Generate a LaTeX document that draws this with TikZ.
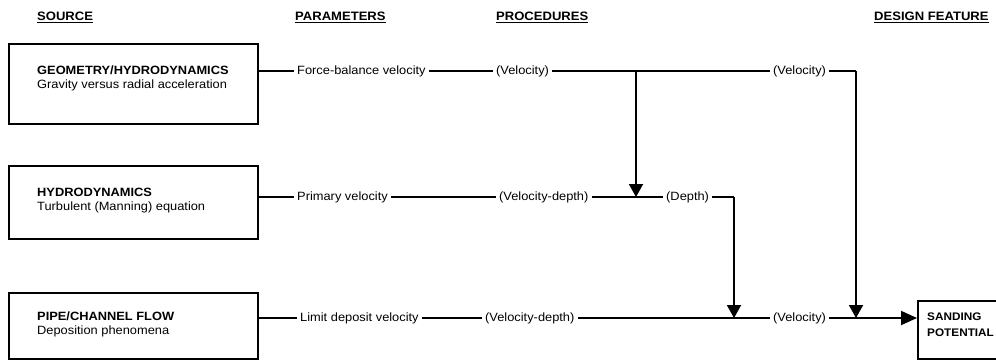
\documentclass[tikz,border=0pt]{standalone}
\usepackage{fontspec}
\setmainfont[FakeStretch=1.07]{Liberation Sans}
\usetikzlibrary{arrows.meta}
\begin{document}
\begin{tikzpicture}[x=1pt,y=-1pt,
  font=\fontsize{12}{14}\selectfont,
  srcbox/.style={draw,line width=2.4pt,inner sep=0pt},
  head/.style={font=\fontsize{12.2}{14}\selectfont\bfseries,anchor=west,inner sep=0pt},
  lbl/.style={anchor=west,inner xsep=3pt,inner ysep=1pt},
  boxtxt/.style={anchor=west,align=left,inner sep=0pt},
  wire/.style={line width=1.8pt},
  feed/.style={line width=1.3pt},
  drop/.style={line width=2pt,-{Triangle[length=13pt,width=14pt]}}]
\useasboundingbox (0,0) rectangle (996,360);

% column headings
\node[head] (hsrc) at (37,17) {\underline{SOURCE}};
\node[head] (hpar) at (295,17) {\underline{PARAMETERS}};
\node[head] (hpro) at (496,17) {\underline{PROCEDURES}};
\node[head] (hdes) at (874,17) {\underline{DESIGN FEATURE}};

% source boxes
\node[srcbox,anchor=north west,minimum width=249pt,minimum height=80pt] (src1) at (8,43) {};
\node[boxtxt] (src1t) at (37,78) {\textbf{GEOMETRY/HYDRODYNAMICS}\\Gravity versus radial acceleration};
\node[srcbox,anchor=north west,minimum width=249pt,minimum height=73pt] (src2) at (8,165) {};
\node[boxtxt] (src2t) at (37,201) {\textbf{HYDRODYNAMICS}\\Turbulent (Manning) equation};
\node[srcbox,anchor=north west,minimum width=249pt,minimum height=66pt] (src3) at (8,292) {};
\node[boxtxt] (src3t) at (37,324) {\textbf{PIPE/CHANNEL FLOW}\\Deposition phenomena};

% design feature box
\node[srcbox,anchor=north west,minimum width=90pt,minimum height=58pt] (sand) at (917,300) {};
\node[boxtxt,font=\fontsize{11}{16}\selectfont\bfseries] (sandt) at (927,325) {SANDING\\POTENTIAL};

% parameters
\node[lbl] (p1) at (294,71) {Force-balance velocity};
\node[lbl] (p2) at (294,197) {Primary velocity};
\node[lbl] (p3) at (297,318) {Limit deposit velocity};

% procedures
\node[lbl] (q1) at (493,71) {(Velocity)};
\node[lbl] (q2) at (496,197) {(Velocity-depth)};
\node[lbl] (q3) at (482,318) {(Velocity-depth)};

% intermediate results
\node[lbl] (r1) at (770,71) {(Velocity)};
\node[lbl] (r2) at (663,197) {(Depth)};
\node[lbl] (r3) at (770,318) {(Velocity)};

% junction points
\coordinate (j1) at (636,71);
\coordinate (t1) at (636,197);
\coordinate (c1) at (856,71);
\coordinate (t3) at (856,318);
\coordinate (c2) at (734,197);
\coordinate (t2) at (734,318);

% source to parameter
\draw[feed] (src1.east |- p1.west) -- (p1.west);
\draw[feed] (src2.east |- p2.west) -- (p2.west);
\draw[feed] (src3.east |- p3.west) -- (p3.west);

% parameter to procedure
\draw[wire] (p1.east) -- (q1.west);
\draw[wire] (p2.east) -- (q2.west);
\draw[wire] (p3.east) -- (q3.west);

% procedure to results
\draw[wire] (q1.east) -- (r1.west);
\draw[wire] (q2.east) -- (r2.west);
\draw[wire] (q3.east) -- (r3.west);

% feeds between rows
\draw[drop] (j1) -- (t1);
\draw[wire] (r1.east) -- (c1);
\draw[drop] (c1) -- (t3);
\draw[wire] (r2.east) -- (c2);
\draw[drop] (c2) -- (t2);
\draw[wire,-{Triangle[length=16pt,width=14pt]}] (r3.east) -- (sand.west |- r3.east);
\end{tikzpicture}
\end{document}
